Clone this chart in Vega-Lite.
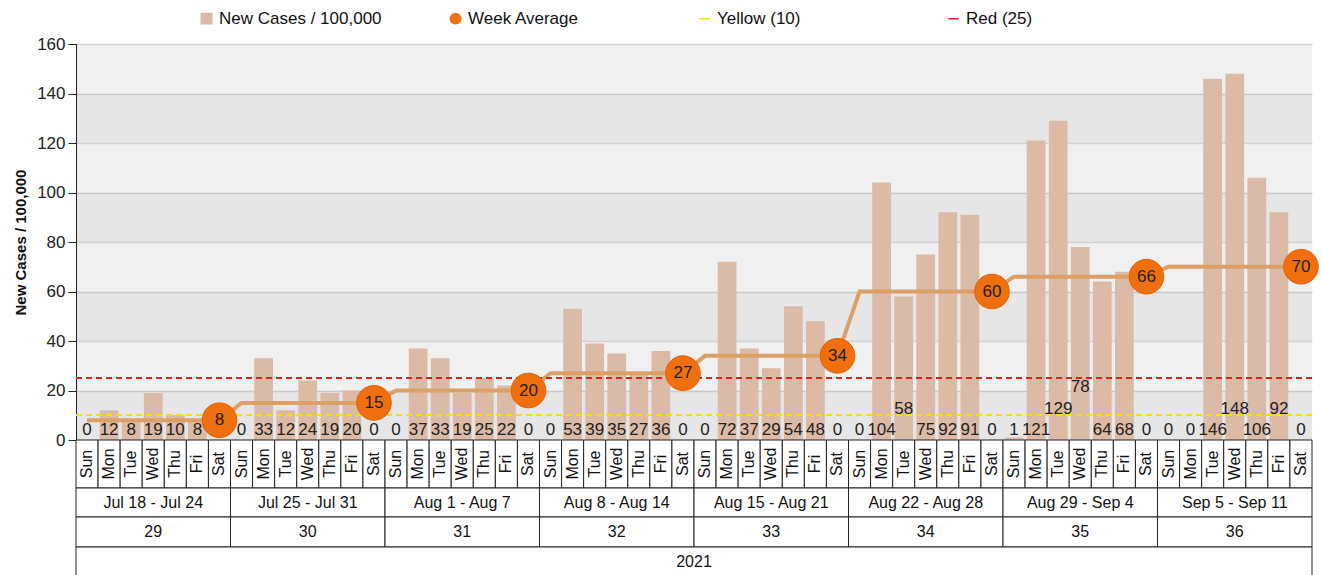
{
  "$schema": "https://vega.github.io/schema/vega-lite/v6.json",
  "padding": {"left": 13, "top": 10, "right": 0, "bottom": 0},
  "background": "white",
  "bounds": "flush",
  "spacing": 0,
  "config": {
    "font": "Liberation Sans",
    "view": {"stroke": null},
    "legend": {
      "orient": "none",
      "legendX": 122,
      "legendY": -34,
      "direction": "horizontal",
      "columns": 4,
      "gridAlign": "all",
      "columnPadding": 65,
      "labelFontSize": 17,
      "labelLimit": 300,
      "labelColor": "#111",
      "symbolSize": 110,
      "padding": 0
    }
  },
  "datasets": {
    "days": [
      {"i": 0, "w": 29, "day": "Sun", "v": 0, "avg": 8},
      {"i": 1, "w": 29, "day": "Mon", "v": 12, "avg": 8},
      {"i": 2, "w": 29, "day": "Tue", "v": 8, "avg": 8},
      {"i": 3, "w": 29, "day": "Wed", "v": 19, "avg": 8},
      {"i": 4, "w": 29, "day": "Thu", "v": 10, "avg": 8},
      {"i": 5, "w": 29, "day": "Fri", "v": 8, "avg": 8},
      {"i": 6, "w": 29, "day": "Sat", "v": 0, "avg": 8},
      {"i": 7, "w": 30, "day": "Sun", "v": 0, "avg": 15},
      {"i": 8, "w": 30, "day": "Mon", "v": 33, "avg": 15},
      {"i": 9, "w": 30, "day": "Tue", "v": 12, "avg": 15},
      {"i": 10, "w": 30, "day": "Wed", "v": 24, "avg": 15},
      {"i": 11, "w": 30, "day": "Thu", "v": 19, "avg": 15},
      {"i": 12, "w": 30, "day": "Fri", "v": 20, "avg": 15},
      {"i": 13, "w": 30, "day": "Sat", "v": 0, "avg": 15},
      {"i": 14, "w": 31, "day": "Sun", "v": 0, "avg": 20},
      {"i": 15, "w": 31, "day": "Mon", "v": 37, "avg": 20},
      {"i": 16, "w": 31, "day": "Tue", "v": 33, "avg": 20},
      {"i": 17, "w": 31, "day": "Wed", "v": 19, "avg": 20},
      {"i": 18, "w": 31, "day": "Thu", "v": 25, "avg": 20},
      {"i": 19, "w": 31, "day": "Fri", "v": 22, "avg": 20},
      {"i": 20, "w": 31, "day": "Sat", "v": 0, "avg": 20},
      {"i": 21, "w": 32, "day": "Sun", "v": 0, "avg": 27},
      {"i": 22, "w": 32, "day": "Mon", "v": 53, "avg": 27},
      {"i": 23, "w": 32, "day": "Tue", "v": 39, "avg": 27},
      {"i": 24, "w": 32, "day": "Wed", "v": 35, "avg": 27},
      {"i": 25, "w": 32, "day": "Thu", "v": 27, "avg": 27},
      {"i": 26, "w": 32, "day": "Fri", "v": 36, "avg": 27},
      {"i": 27, "w": 32, "day": "Sat", "v": 0, "avg": 27},
      {"i": 28, "w": 33, "day": "Sun", "v": 0, "avg": 34},
      {"i": 29, "w": 33, "day": "Mon", "v": 72, "avg": 34},
      {"i": 30, "w": 33, "day": "Tue", "v": 37, "avg": 34},
      {"i": 31, "w": 33, "day": "Wed", "v": 29, "avg": 34},
      {"i": 32, "w": 33, "day": "Thu", "v": 54, "avg": 34},
      {"i": 33, "w": 33, "day": "Fri", "v": 48, "avg": 34},
      {"i": 34, "w": 33, "day": "Sat", "v": 0, "avg": 34},
      {"i": 35, "w": 34, "day": "Sun", "v": 0, "avg": 60},
      {"i": 36, "w": 34, "day": "Mon", "v": 104, "avg": 60},
      {"i": 37, "w": 34, "day": "Tue", "v": 58, "avg": 60},
      {"i": 38, "w": 34, "day": "Wed", "v": 75, "avg": 60},
      {"i": 39, "w": 34, "day": "Thu", "v": 92, "avg": 60},
      {"i": 40, "w": 34, "day": "Fri", "v": 91, "avg": 60},
      {"i": 41, "w": 34, "day": "Sat", "v": 0, "avg": 60},
      {"i": 42, "w": 35, "day": "Sun", "v": 1, "avg": 66},
      {"i": 43, "w": 35, "day": "Mon", "v": 121, "avg": 66},
      {"i": 44, "w": 35, "day": "Tue", "v": 129, "avg": 66},
      {"i": 45, "w": 35, "day": "Wed", "v": 78, "avg": 66},
      {"i": 46, "w": 35, "day": "Thu", "v": 64, "avg": 66},
      {"i": 47, "w": 35, "day": "Fri", "v": 68, "avg": 66},
      {"i": 48, "w": 35, "day": "Sat", "v": 0, "avg": 66},
      {"i": 49, "w": 36, "day": "Sun", "v": 0, "avg": 70},
      {"i": 50, "w": 36, "day": "Mon", "v": 0, "avg": 70},
      {"i": 51, "w": 36, "day": "Tue", "v": 146, "avg": 70},
      {"i": 52, "w": 36, "day": "Wed", "v": 148, "avg": 70},
      {"i": 53, "w": 36, "day": "Thu", "v": 106, "avg": 70},
      {"i": 54, "w": 36, "day": "Fri", "v": 92, "avg": 70},
      {"i": 55, "w": 36, "day": "Sat", "v": 0, "avg": 70}
    ],
    "weeks": [
      {"i": 6, "w": 29, "range": "Jul 18 - Jul 24", "avg": 8},
      {"i": 13, "w": 30, "range": "Jul 25 - Jul 31", "avg": 15},
      {"i": 20, "w": 31, "range": "Aug 1 - Aug 7", "avg": 20},
      {"i": 27, "w": 32, "range": "Aug 8 - Aug 14", "avg": 27},
      {"i": 34, "w": 33, "range": "Aug 15 - Aug 21", "avg": 34},
      {"i": 41, "w": 34, "range": "Aug 22 - Aug 28", "avg": 60},
      {"i": 48, "w": 35, "range": "Aug 29 - Sep 4", "avg": 66},
      {"i": 55, "w": 36, "range": "Sep 5 - Sep 11", "avg": 70}
    ],
    "bands": [
      {"lo": 0, "hi": 20},
      {"lo": 40, "hi": 60},
      {"lo": 80, "hi": 100},
      {"lo": 120, "hi": 140}
    ],
    "year": [{"year": "2021"}]
  },
  "vconcat": [
    {
      "width": 1236,
      "height": 396,
      "view": {"fill": "#f0f0f0", "stroke": null},
      "encoding": {
        "x": {"field": "i", "type": "ordinal", "axis": null,
              "scale": {"paddingInner": 0.15, "paddingOuter": 0.075}}
      },
      "layer": [
        {
          "data": {"name": "bands"},
          "mark": {"type": "rect", "fill": "#000", "opacity": 0.04},
          "encoding": {
            "x": null,
            "y": {"field": "lo", "type": "quantitative"},
            "y2": {"field": "hi"}
          }
        },
        {
          "data": {"name": "days"},
          "mark": {"type": "bar"},
          "encoding": {
            "y": {"field": "v", "type": "quantitative",
                  "scale": {"domain": [0, 160], "nice": false},
                  "axis": {"values": [0, 20, 40, 60, 80, 100, 120, 140, 160],
                           "title": "New Cases / 100,000", "titleFontSize": 15,
                           "titleFontWeight": "bold", "titleColor": "#111", "titlePadding": 8,
                           "labelFontSize": 17, "labelColor": "#222", "labelPadding": 3,
                           "domainColor": "#222", "tickColor": "#222", "tickSize": 8,
                           "gridColor": "#d2d2d2", "gridWidth": 1.5}},
            "color": {"datum": "New Cases / 100,000", "type": "nominal",
                      "scale": {"domain": ["New Cases / 100,000", "Week Average", "Yellow (10)", "Red (25)"],
                                "range": ["#dbbaa6", "#f07010", "#f2e400", "#e02020"]},
                      "legend": {"title": null,
                                 "encode": {"symbols": {"update": {
                                   "shape": {"signal": "datum.value === 'New Cases / 100,000' ? 'square' : datum.value === 'Week Average' ? 'circle' : 'stroke'"},
                                   "stroke": {"scale": "color", "field": "value"},
                                   "strokeWidth": {"value": 1.5}}}}}}
          }
        },
        {
          "data": {"name": "days"},
          "mark": {"type": "line", "color": "#dca067", "strokeWidth": 4},
          "encoding": {
            "y": {"field": "avg", "type": "quantitative"}
          }
        },
        {
          "data": {"name": "days"},
          "mark": {"type": "rule", "strokeDash": [6, 4], "strokeWidth": 1.3},
          "encoding": {
            "x": null,
            "y": {"datum": 10, "type": "quantitative"},
            "color": {"datum": "Yellow (10)", "type": "nominal"}
          }
        },
        {
          "data": {"name": "days"},
          "mark": {"type": "rule", "strokeDash": [6, 4], "strokeWidth": 1.3},
          "encoding": {
            "x": null,
            "y": {"datum": 25, "type": "quantitative"},
            "color": {"datum": "Red (25)", "type": "nominal"}
          }
        },
        {
          "data": {"name": "days"},
          "transform": [{"filter": "indexof([37, 44, 45, 52, 54], datum.i) < 0"}],
          "mark": {"type": "text", "fontSize": 17, "color": "#222", "baseline": "middle"},
          "encoding": {
            "y": {"datum": 4, "type": "quantitative"},
            "text": {"field": "v", "type": "quantitative"}
          }
        },
        {
          "data": {"name": "days"},
          "transform": [{"filter": "indexof([37, 44, 52, 54], datum.i) >= 0"}],
          "mark": {"type": "text", "fontSize": 17, "color": "#222", "baseline": "middle"},
          "encoding": {
            "y": {"datum": 12.7, "type": "quantitative"},
            "text": {"field": "v", "type": "quantitative"}
          }
        },
        {
          "data": {"name": "days"},
          "transform": [{"filter": "datum.i === 45"}],
          "mark": {"type": "text", "fontSize": 17, "color": "#222", "baseline": "middle"},
          "encoding": {
            "y": {"datum": 21.4, "type": "quantitative"},
            "text": {"field": "v", "type": "quantitative"}
          }
        },
        {
          "data": {"name": "weeks"},
          "mark": {"type": "point", "shape": "circle", "filled": true, "size": 1200, "opacity": 1,
                   "stroke": "#e86000", "strokeWidth": 1},
          "encoding": {
            "y": {"field": "avg", "type": "quantitative"},
            "color": {"datum": "Week Average", "type": "nominal"}
          }
        },
        {
          "data": {"name": "weeks"},
          "mark": {"type": "text", "fontSize": 17, "color": "#222", "baseline": "middle"},
          "encoding": {
            "y": {"field": "avg", "type": "quantitative"},
            "text": {"field": "avg", "type": "quantitative"}
          }
        }
      ]
    },
    {
      "width": 1236,
      "height": 48,
      "data": {"name": "days"},
      "encoding": {
        "x": {"field": "i", "type": "ordinal", "axis": null,
              "scale": {"paddingInner": 0, "paddingOuter": 0}}
      },
      "layer": [
        {
          "mark": {"type": "rect", "fill": "white", "stroke": "#222", "strokeWidth": 1},
          "encoding": {
            "y": {"datum": 0, "type": "quantitative", "scale": {"domain": [0, 1]}, "axis": null},
            "y2": {"datum": 1}
          }
        },
        {
          "mark": {"type": "text", "angle": 270, "fontSize": 16, "color": "#111", "baseline": "middle", "align": "center"},
          "encoding": {
            "y": {"datum": 0.5, "type": "quantitative"},
            "text": {"field": "day"}
          }
        }
      ]
    },
    {
      "width": 1236,
      "height": 29,
      "data": {"name": "weeks"},
      "encoding": {
        "x": {"field": "w", "type": "ordinal", "axis": null,
              "scale": {"paddingInner": 0, "paddingOuter": 0}}
      },
      "layer": [
        {
          "mark": {"type": "rect", "fill": "white", "stroke": "#222", "strokeWidth": 1},
          "encoding": {
            "y": {"datum": 0, "type": "quantitative", "scale": {"domain": [0, 1]}, "axis": null},
            "y2": {"datum": 1}
          }
        },
        {
          "mark": {"type": "text", "fontSize": 16, "color": "#111", "baseline": "middle"},
          "encoding": {
            "y": {"datum": 0.5, "type": "quantitative"},
            "text": {"field": "range"}
          }
        }
      ]
    },
    {
      "width": 1236,
      "height": 30,
      "data": {"name": "weeks"},
      "encoding": {
        "x": {"field": "w", "type": "ordinal", "axis": null,
              "scale": {"paddingInner": 0, "paddingOuter": 0}}
      },
      "layer": [
        {
          "mark": {"type": "rect", "fill": "white", "stroke": "#222", "strokeWidth": 1},
          "encoding": {
            "y": {"datum": 0, "type": "quantitative", "scale": {"domain": [0, 1]}, "axis": null},
            "y2": {"datum": 1}
          }
        },
        {
          "mark": {"type": "text", "fontSize": 16, "color": "#111", "baseline": "middle"},
          "encoding": {
            "y": {"datum": 0.5, "type": "quantitative"},
            "text": {"field": "w"}
          }
        }
      ]
    },
    {
      "width": 1236,
      "height": 30,
      "data": {"name": "year"},
      "encoding": {
        "x": {"field": "year", "type": "ordinal", "axis": null,
              "scale": {"paddingInner": 0, "paddingOuter": 0}}
      },
      "layer": [
        {
          "mark": {"type": "rect", "fill": "white", "stroke": "#222", "strokeWidth": 1},
          "encoding": {
            "y": {"datum": 0, "type": "quantitative", "scale": {"domain": [0, 1]}, "axis": null},
            "y2": {"datum": 1}
          }
        },
        {
          "mark": {"type": "text", "fontSize": 16, "color": "#111", "baseline": "middle"},
          "encoding": {
            "y": {"datum": 0.5, "type": "quantitative"},
            "text": {"field": "year"}
          }
        }
      ]
    }
  ]
}
